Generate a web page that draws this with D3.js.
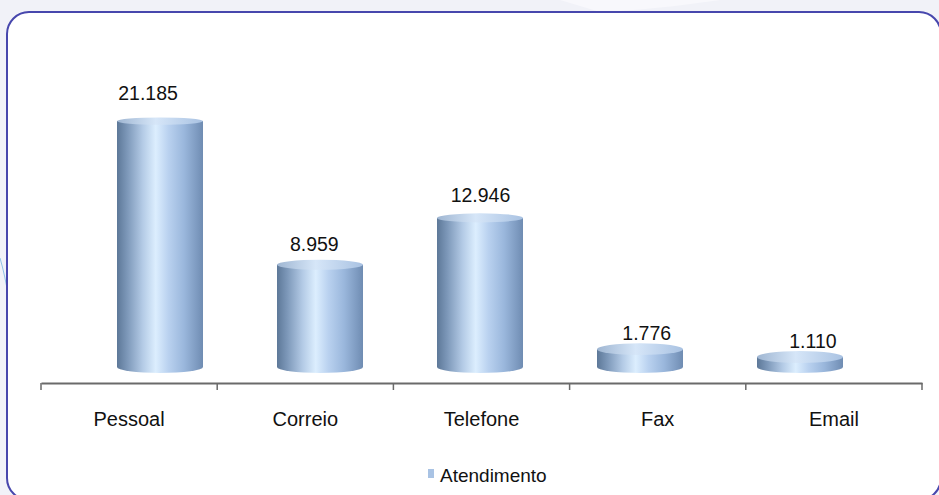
<!DOCTYPE html>
<html><head><meta charset="utf-8">
<script src="https://cdn.jsdelivr.net/npm/d3@7"></script>
<style>html,body{margin:0;padding:0;background:#f2f3f8;}svg{display:block;}</style>
</head><body>
<script>
const categories = ["Pessoal", "Correio", "Telefone", "Fax", "Email"];
const values = [21185, 8959, 12946, 1776, 1110];
const valueLabels = ["21.185", "8.959", "12.946", "1.776", "1.110"];
const seriesName = "Atendimento";

const W = 939, H = 495;
const FONT = "Liberation Sans, Arial, sans-serif";
const svg = d3.select("body").append("svg").attr("width", W).attr("height", H);
const defs = svg.append("defs");

// background decoration
svg.append("rect").attr("width", W).attr("height", H).attr("fill", "#f1f2f8");
svg.append("path").attr("d", "M560,0 L720,0 Q650,10 600,12 Z").attr("fill", "#f8f8fc");
svg.append("path").attr("d", "M0,258 Q5,275 9,300").attr("fill", "none").attr("stroke", "#8fc3e6").attr("stroke-width", 1);

// frame
svg.append("rect").attr("x", 7).attr("y", 12).attr("width", 934).attr("height", 488)
  .attr("rx", 22).attr("ry", 22).attr("fill", "#ffffff").attr("stroke", "#4747ad").attr("stroke-width", 2);

// gradients
const gBody = defs.append("linearGradient").attr("id", "gBody").attr("x1", "0").attr("x2", "1").attr("y1", "0").attr("y2", "0");
[[0, "#5d7898"], [0.12, "#7d98b9"], [0.3, "#b4cbe6"], [0.45, "#dceefe"], [0.6, "#b9d1ef"], [0.78, "#9ab7dc"], [0.92, "#7f9cc2"], [1, "#6f8cb2"]]
  .forEach(([o, c]) => gBody.append("stop").attr("offset", o).attr("stop-color", c));
const gTop = defs.append("linearGradient").attr("id", "gTop").attr("x1", "0").attr("x2", "1").attr("y1", "0").attr("y2", "0");
[[0, "#9fb6d2"], [0.45, "#d6e6f8"], [1, "#a9c2e2"]]
  .forEach(([o, c]) => gTop.append("stop").attr("offset", o).attr("stop-color", c));

// scales
const xAxisScale = d3.scaleBand().domain(categories).range([41, 922]).padding(0);
const xBar = d3.scaleBand().domain(categories).range([80, 880]).paddingInner(0.4625).paddingOuter(0.23125);
const xLabel = d3.scaleBand().domain(categories).range([65, 896]);
const yBar = d3.scaleLinear().domain([0, 25000]).range([370, 370 - 25000 * 0.01175]);
const yLabel = d3.scaleLinear().domain([0, 25000]).range([361.7, 361.7 - 25000 * 0.01235]);
const baseY = 367, ryTop = 3.5, ryBot = 6;

// cylinders
const bars = svg.append("g").selectAll("g").data(categories).join("g");
bars.each(function (c, i) {
  const g = d3.select(this);
  const x0 = xBar(c), w = xBar.bandwidth(), cx = x0 + w / 2, rx = w / 2;
  const top = yBar(values[i]);
  const ry = ryTop + (ryBot - ryTop) * Math.min(1, (top - 110) / 250);
  g.append("path")
    .attr("d", `M${x0},${top} L${x0},${baseY} A${rx},${ryBot} 0 0 0 ${x0 + w},${baseY} L${x0 + w},${top} Z`)
    .attr("fill", "url(#gBody)");
  g.append("ellipse").attr("cx", cx).attr("cy", top).attr("rx", rx).attr("ry", ry)
    .attr("fill", "url(#gTop)");
});

// value labels
svg.append("g").selectAll("text").data(categories).join("text")
  .attr("x", c => xLabel(c) + xLabel.bandwidth() / 2)
  .attr("y", (c, i) => yLabel(values[i]))
  .attr("text-anchor", "middle")
  .attr("font-family", FONT)
  .attr("font-size", 19.5).attr("fill", "#111")
  .text((c, i) => valueLabels[i]);

// axis
const axis = d3.axisBottom(xAxisScale).tickSize(0).tickSizeOuter(0);
const ag = svg.append("g").attr("transform", "translate(0,383)").call(axis);
ag.select(".domain").attr("stroke", "#6a6a6a").attr("stroke-width", 2);
ag.selectAll(".tick line").remove();
ag.selectAll(".tick text").attr("dy", 0).attr("y", 43)
  .attr("font-family", FONT).attr("font-size", 20).attr("fill", "#111");
// category boundary ticks
const bounds = categories.map(c => xAxisScale(c)).concat([xAxisScale.range()[1]]);
ag.selectAll("line.bt").data(bounds).join("line").attr("class", "bt")
  .attr("x1", d => d).attr("x2", d => d).attr("y1", 0).attr("y2", 7)
  .attr("stroke", "#6a6a6a").attr("stroke-width", 1.5);

// legend
const lg = svg.append("g").attr("transform", "translate(428,482)");
lg.append("rect").attr("x", 0).attr("y", -13).attr("width", 6).attr("height", 9).attr("fill", "#a9c3e4");
lg.append("text").attr("x", 12).attr("y", 0).attr("font-family", FONT)
  .attr("font-size", 19).attr("fill", "#111").text(seriesName);
</script>
</body></html>
